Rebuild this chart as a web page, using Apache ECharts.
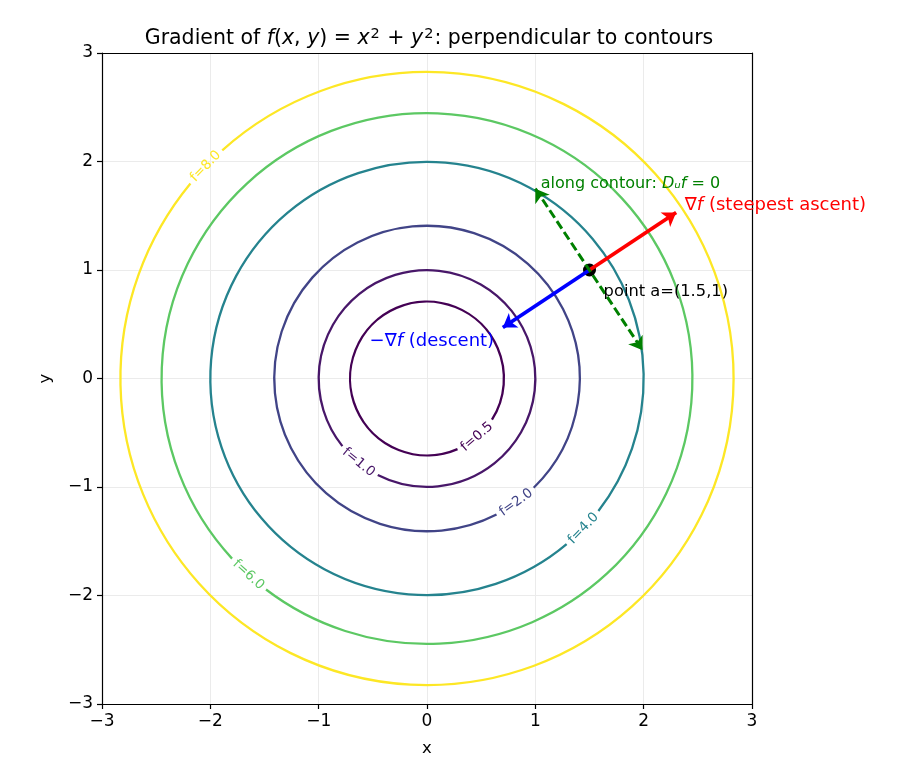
<!DOCTYPE html>
<html>
<head>
<meta charset="utf-8">
<script src="https://cdn.jsdelivr.net/npm/echarts@6/dist/echarts.min.js"></script>
<style>
  html, body { margin: 0; padding: 0; background: #fff; }
  #chart { width: 910px; height: 780px; }
</style>
</head>
<body>
<div id="chart"></div>
<script>
// contour levels of f = x^2 + y^2 and their radii
const levelLabels = ['f=0.5', 'f=1.0', 'f=2.0', 'f=4.0', 'f=6.0', 'f=8.0'];
const contourRadii = [0.71, 1.0, 1.41, 2.0, 2.45, 2.83];
const labelAngles = [-49.5, 230.8, -54.3, -43.8, -132.3, 136.2]; // where the inline label sits (deg)
const levelColors = ['#440154', '#481769', '#414487', '#25838e', '#5cc863', '#fde725'];

// point and arrows
const pointA = [1.5, 1];
const ascentTip = [2.3, 1.53];
const descentTip = [0.7, 0.47];
const contourTips = [[1.0, 1.75], [1.99, 0.26]];

// annotation anchors (left edge, middle of text)
const notes = [
  { pos: [1.05, 1.79], text: 'along contour: {i|D}{i|ᵤ}{i|f} = 0', color: 'green', size: 16 },
  { pos: [2.38, 1.60], text: '∇{i|f} (steepest ascent)', color: 'red', size: 18 },
  { pos: [1.63, 0.80], text: 'point a=(1.5,1)', color: '#000', size: 16.3 },
  { pos: [-0.53, 0.345], text: '−∇{i|f} (descent)', color: 'blue', size: 18 }
];

const chart = echarts.init(document.getElementById('chart'));
const FONT = 'DejaVu Sans';
const fmt = v => String(v).replace('-', '−');

const contourData = contourRadii.map((r, i) => [r, labelAngles[i], i]);

function renderContour(params, api) {
  const r = api.value(0);
  const th = api.value(1) * Math.PI / 180;
  const idx = api.value(2);
  const c = api.coord([0, 0]);
  const rp = api.size([r, 0])[0];
  const half = 23 / rp;
  let rot = th + Math.PI / 2;
  while (rot > Math.PI / 2) rot -= Math.PI;
  while (rot <= -Math.PI / 2) rot += Math.PI;
  const col = levelColors[idx];
  return {
    type: 'group',
    children: [
      {
        type: 'arc',
        shape: { cx: c[0], cy: c[1], r: rp, startAngle: -th + half, endAngle: -th - half + Math.PI * 2, clockwise: true },
        style: { stroke: col, fill: null, lineWidth: 2.3 }
      },
      {
        type: 'text',
        x: c[0] + rp * Math.cos(th),
        y: c[1] - rp * Math.sin(th),
        rotation: rot,
        style: { text: levelLabels[idx], fill: col, font: '13.5px "DejaVu Sans"', align: 'center', verticalAlign: 'middle' }
      }
    ]
  };
}

function arrowSeries(from, to, color, dashed, both) {
  return {
    type: 'lines',
    coordinateSystem: 'cartesian2d',
    symbol: both ? ['arrow', 'arrow'] : ['none', 'arrow'],
    symbolSize: 13,
    silent: true,
    z: 5,
    lineStyle: { color: color, width: dashed ? 3 : 3.8, type: dashed ? [9, 4] : 'solid', opacity: 1 },
    data: [{ coords: [from, to] }]
  };
}

const axisCommon = {
  type: 'value', min: -3, max: 3, interval: 1,
  nameLocation: 'middle',
  nameTextStyle: { fontFamily: FONT, fontSize: 16.5, color: '#000' },
  axisLine: { onZero: false, lineStyle: { color: '#000', width: 1.2 } },
  axisTick: { inside: false, length: 5, lineStyle: { color: '#000', width: 1.2 } },
  axisLabel: { fontFamily: FONT, fontSize: 17, color: '#000', formatter: fmt, margin: 9 },
  splitLine: { showMinLine: false, showMaxLine: false, lineStyle: { color: '#ebebeb', width: 1 } }
};

const frameAxis = {
  type: 'value', min: -3, max: 3, interval: 1,
  axisLine: { onZero: false, lineStyle: { color: '#000', width: 1.2 } },
  axisTick: { show: false }, axisLabel: { show: false }, splitLine: { show: false }
};

const option = {
  animation: false,
  title: {
    text: 'Gradient of {i|f}({i|x}, {i|y}) = {i|x}{sup|2} + {i|y}{sup|2}: perpendicular to contours',
    left: 424, top: 22, textAlign: 'center',
    textStyle: {
      fontFamily: FONT, fontSize: 20.5, fontWeight: 'normal', color: '#000',
      rich: {
        i: { fontFamily: FONT, fontSize: 20.5, fontStyle: 'italic', color: '#000' },
        sup: { fontFamily: FONT, fontSize: 14.5, color: '#000', verticalAlign: 'top', padding: [0, 1, 8, 1] }
      }
    }
  },
  grid: { left: 102, right: 158, top: 53, bottom: 76 },
  xAxis: [
    Object.assign({}, axisCommon, { name: 'x', nameGap: 36 }),
    Object.assign({}, frameAxis, { position: 'top' })
  ],
  yAxis: [
    Object.assign({}, axisCommon, { name: 'y', nameGap: 48 }),
    Object.assign({}, frameAxis, { position: 'right' })
  ],
  series: [
    {
      type: 'custom',
      coordinateSystem: 'cartesian2d',
      renderItem: renderContour,
      data: contourData,
      silent: true,
      z: 2
    },
    {
      type: 'scatter',
      data: [pointA],
      symbolSize: 13,
      itemStyle: { color: '#000', opacity: 1 },
      z: 4
    },
    arrowSeries(pointA, ascentTip, 'red', false, false),
    arrowSeries(pointA, descentTip, 'blue', false, false),
    arrowSeries(contourTips[0], contourTips[1], 'green', true, true),
    {
      type: 'scatter',
      symbolSize: 0,
      silent: true,
      z: 6,
      itemStyle: { opacity: 1 },
      data: notes.map(n => ({
        value: n.pos,
        label: {
          show: true,
          position: [0, 0],
          align: 'left',
          verticalAlign: 'middle',
          formatter: n.text,
          color: n.color,
          opacity: 1,
          fontFamily: FONT,
          fontSize: n.size,
          rich: {
            i: { fontFamily: FONT, fontSize: n.size, fontStyle: 'italic', color: n.color }
          }
        }
      }))
    }
  ]
};

chart.setOption(option);
</script>
</body>
</html>
